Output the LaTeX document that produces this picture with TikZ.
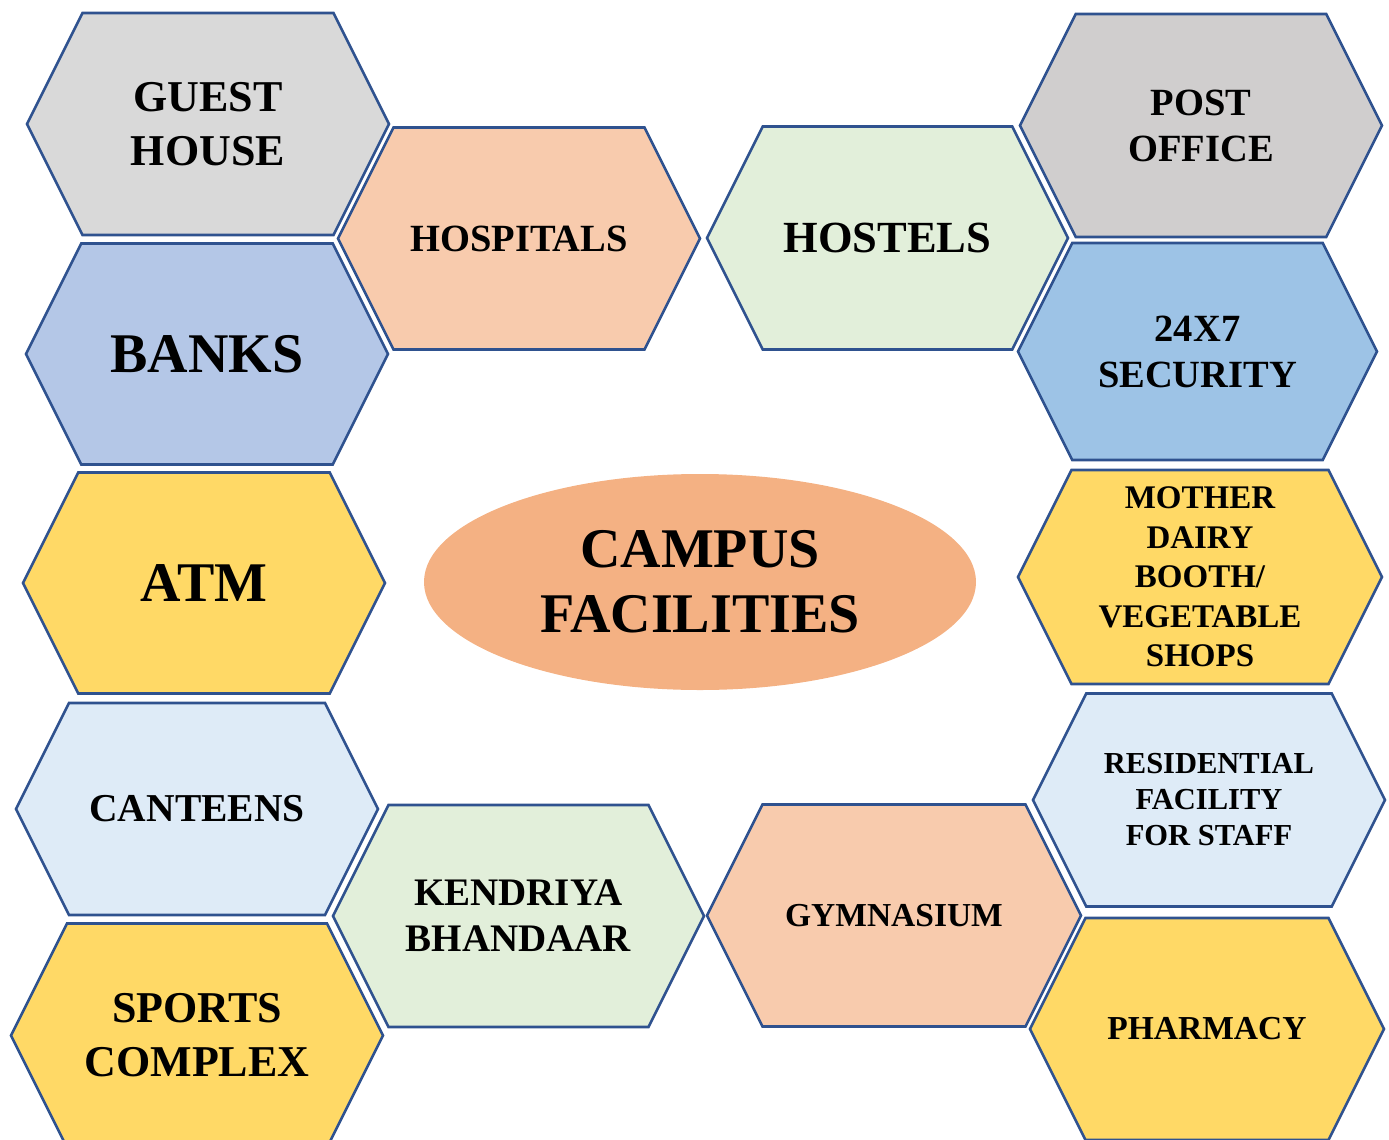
\documentclass[tikz,border=0pt]{standalone}
\usepackage{fontspec}
\setmainfont{Liberation Serif}
\usetikzlibrary{shapes.geometric}

\definecolor{edgeblue}{HTML}{2F528F}
\definecolor{greyA}{HTML}{D9D9D9}
\definecolor{greyB}{HTML}{D0CECE}
\definecolor{peach}{HTML}{F8CBAD}
\definecolor{mint}{HTML}{E2EFDA}
\definecolor{blueA}{HTML}{B4C7E7}
\definecolor{blueB}{HTML}{9DC3E6}
\definecolor{paleblue}{HTML}{DEEBF7}
\definecolor{gold}{HTML}{FFD966}
\definecolor{salmon}{HTML}{F4B183}

\tikzset{
  cell/.style={draw=edgeblue, line width=2.6pt},
  celltext/.style={align=center, inner sep=0pt, text=black},
  hub/.style={ellipse, fill=salmon, draw=none, inner sep=0pt,
    minimum width=552, minimum height=216, align=center,
    font=\bfseries\fontsize{56}{65}\selectfont}
}

% name, cx, cy, half width, half height, fill, size, skip, text
\newcommand{\hexcell}[9]{%
  \filldraw[cell, fill=#6] (#2-#4,#3) -- (#2-#4+#5/2,#3-#5) -- (#2+#4-#5/2,#3-#5)
    -- (#2+#4,#3) -- (#2+#4-#5/2,#3+#5) -- (#2-#4+#5/2,#3+#5) -- cycle;
  \node[celltext, font=\bfseries\fontsize{#7}{#8}\selectfont] (#1) at (#2,#3) {#9};
}

\begin{document}
\begin{tikzpicture}[x=1pt, y=-1pt, line join=miter]
  \clip (0,0) rectangle (1389,1140);
  % left column
  \hexcell{gh}{208}{124}{181}{111}{greyA}{44}{54}{GUEST\\HOUSE}
  \hexcell{bank}{207}{354}{181}{110.5}{blueA}{56}{66}{BANKS}
  \hexcell{atm}{204}{583}{181}{110.5}{gold}{56}{66}{ATM}
  \hexcell{cant}{197}{809}{181}{106}{paleblue}{39.5}{47}{CANTEENS}
  \hexcell{sport}{197}{1035.5}{186}{112}{gold}{44}{54}{SPORTS\\COMPLEX}
  % middle
  \hexcell{hosp}{519}{238.5}{181}{111}{peach}{38.5}{46}{HOSPITALS}
  \hexcell{host}{887.5}{238}{180.5}{111.5}{mint}{44.5}{53}{HOSTELS}
  \hexcell{kend}{518.5}{916}{185.5}{111}{mint}{39}{46}{KENDRIYA\\BHANDAAR}
  \hexcell{gym}{894}{915.5}{187}{111}{peach}{33.5}{40}{GYMNASIUM}
  % right column
  \hexcell{post}{1201}{125.5}{181}{111.5}{greyB}{38.5}{46}{POST\\OFFICE}
  \hexcell{sec}{1197.5}{351.5}{179.5}{108.5}{blueB}{38.5}{46}{24X7\\SECURITY}
  \hexcell{dairy}{1200}{577}{182}{107}{gold}{33}{39.5}{MOTHER\\DAIRY\\BOOTH/\\VEGETABLE\\SHOPS}
  \hexcell{resid}{1209}{800}{176}{106.5}{paleblue}{30.5}{36}{RESIDENTIAL\\FACILITY\\FOR STAFF}
  \hexcell{pharm}{1207}{1029}{177}{111}{gold}{33.5}{40}{PHARMACY}
  % centre
  \node[hub] (hub) at (700,582) {CAMPUS\\FACILITIES};
\end{tikzpicture}
\end{document}
